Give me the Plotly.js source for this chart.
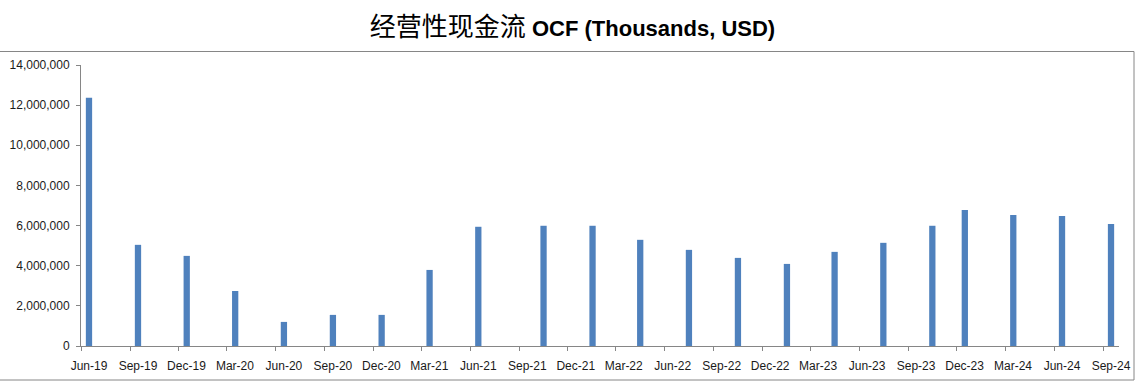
<!DOCTYPE html>
<html>
<head>
<meta charset="utf-8">
<script src="https://cdn.plot.ly/plotly-3.0.1.min.js"></script>
<style>html,body{margin:0;padding:0;background:#fff;}#chart{width:1145px;height:391px;}</style>
</head>
<body>
<div id="chart"></div>
<script>
// Reporting months of each bar (bar sits in the middle of its month)
var periods = ['2019-06','2019-09','2019-12','2020-03','2020-06','2020-09','2020-12','2021-03','2021-06',
               '2021-10','2022-01','2022-04','2022-07','2022-10','2023-01','2023-04','2023-07','2023-10',
               '2023-12','2024-03','2024-06','2024-09'];
// Operating cash flow, thousands USD
var ocf = [12370000, 5040000, 4490000, 2740000, 1200000, 1550000, 1550000, 3790000, 5940000,
           5990000, 5990000, 5290000, 4790000, 4390000, 4090000, 4690000, 5140000, 5990000,
           6780000, 6530000, 6480000, 6080000];
// Axis ticks (quarter month starts) and their labels
var tickDates = ['2019-06-01','2019-09-01','2019-12-01','2020-03-01','2020-06-01','2020-09-01','2020-12-01',
                 '2021-03-01','2021-06-01','2021-09-01','2021-12-01','2022-03-01','2022-06-01','2022-09-01',
                 '2022-12-01','2023-03-01','2023-06-01','2023-09-01','2023-12-01','2024-03-01','2024-06-01','2024-09-01'];
var tickLabels = ['Jun-19','Sep-19','Dec-19','Mar-20','Jun-20','Sep-20','Dec-20','Mar-21','Jun-21','Sep-21','Dec-21',
                  'Mar-22','Jun-22','Sep-22','Dec-22','Mar-23','Jun-23','Sep-23','Dec-23','Mar-24','Jun-24','Sep-24'];

var DAY = 86400000;
var trace = {
  type: 'bar',
  x: periods,
  y: ocf,
  xperiod: 'M1',
  xperiodalignment: 'middle',
  width: 11.8 * DAY,
  marker: {color: '#4F81BD', line: {width: 0}},
  hoverinfo: 'x+y'
};

var axisColor = '#868686';
var layout = {
  width: 1145,
  height: 391,
  paper_bgcolor: '#ffffff',
  plot_bgcolor: '#ffffff',
  margin: {l: 81, r: 26, t: 65, b: 45},
  showlegend: false,
  font: {family: 'Liberation Sans, Arial, sans-serif', size: 12, color: '#1a1a1a'},
  title: {
    text: '<span style="font-size:26px;font-weight:normal">经营性现金流</span> <b>OCF (Thousands, USD)</b>',
    font: {family: 'Liberation Sans, Noto Sans CJK SC, sans-serif', size: 22, color: '#000000'},
    x: 0.5, xref: 'container', xanchor: 'center',
    y: 1 - 28/391, yref: 'container', yanchor: 'middle'
  },
  xaxis: {
    type: 'date',
    range: ['2019-06-01', '2024-10-01'],
    tickmode: 'array',
    tickvals: tickDates,
    ticktext: tickLabels,
    ticklabelshift: 8,
    ticklabelstandoff: 5,
    showgrid: false,
    zeroline: false,
    showline: true,
    linecolor: axisColor,
    linewidth: 1,
    ticks: 'outside',
    ticklen: 4,
    tickcolor: axisColor,
    tickfont: {size: 12, color: '#1a1a1a'},
    fixedrange: true
  },
  yaxis: {
    range: [0, 14000000],
    dtick: 2000000,
    tick0: 0,
    tickformat: ',d',
    ticklabelstandoff: 4,
    showgrid: false,
    zeroline: false,
    showline: true,
    linecolor: axisColor,
    linewidth: 1,
    ticks: 'outside',
    ticklen: 4,
    tickcolor: axisColor,
    tickfont: {size: 12, color: '#1a1a1a'},
    fixedrange: true
  },
  shapes: [{
    type: 'rect', xref: 'paper', yref: 'paper',
    x0: -83/1038, x1: (1134-81)/1038,
    y0: (346-380)/281, y1: (346-51.5)/281,
    line: {color: axisColor, width: 1},
    fillcolor: 'rgba(0,0,0,0)',
    layer: 'below'
  }]
};

Plotly.newPlot('chart', [trace], layout, {displayModeBar: false, staticPlot: true});
</script>
</body>
</html>
